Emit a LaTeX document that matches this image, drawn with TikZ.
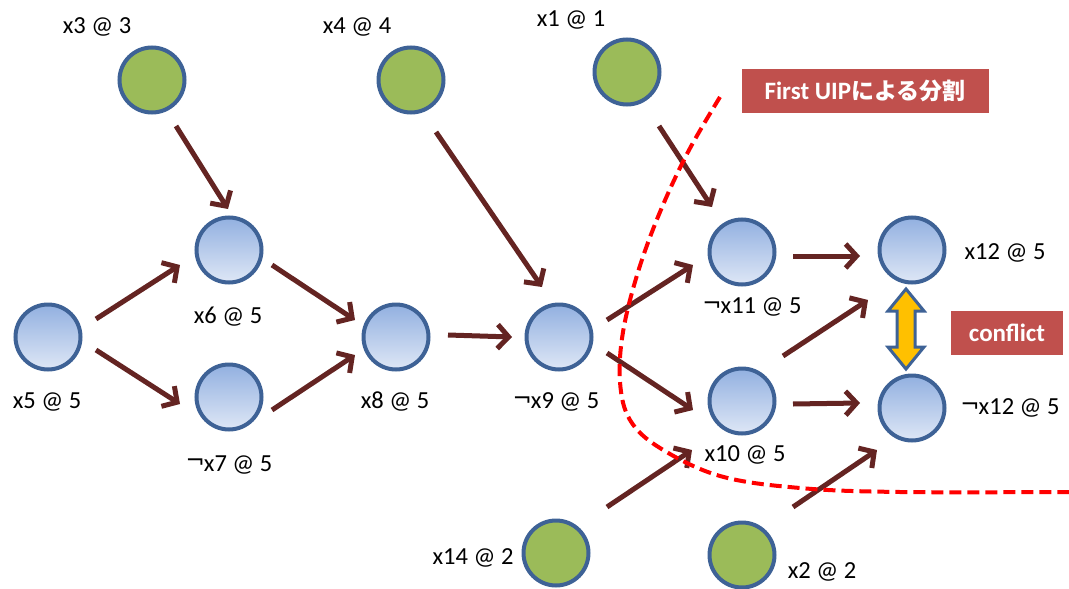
\documentclass[tikz,border=0pt]{standalone}
\usepackage{fontspec}
\setmainfont{Carlito}
\newfontfamily\jpfont{Noto Sans CJK JP}
\newfontfamily\symfont{DejaVu Sans}
\usetikzlibrary{arrows.meta,calc}
\definecolor{rimblue}{RGB}{62,98,150}
\definecolor{leaf}{RGB}{155,187,89}
\definecolor{topblue}{RGB}{146,176,224}
\definecolor{botblue}{RGB}{222,231,246}
\definecolor{edgered}{RGB}{100,36,34}
\definecolor{boxred}{RGB}{192,80,77}
\definecolor{cutred}{RGB}{255,0,0}
\definecolor{warnyellow}{RGB}{255,192,0}
\newcommand{\negsign}{\raisebox{2.5pt}{\symfont\fontsize{23}{24}\selectfont ¬}\kern-1pt}
\tikzset{
  lit/.style={circle, minimum size=65pt, inner sep=0pt, draw=rimblue, line width=4pt, shading=axis, top color=topblue, bottom color=botblue},
  given/.style={circle, minimum size=65pt, inner sep=0pt, draw=rimblue, line width=4pt, fill=leaf},
  lbl/.style={font=\fontsize{24.5}{27}\selectfont, inner sep=0pt},
  imp/.style={draw=edgered, line width=5pt, line cap=butt,
    -{Straight Barb[length=11pt,width=24pt,line join=miter]}},
  tag/.style={fill=boxred, text=white, font=\bfseries\fontsize{25}{27}\selectfont, inner sep=0pt},
}
\begin{document}
\begin{tikzpicture}[x=1pt,y=-1pt]
\useasboundingbox (0,0) rectangle (1069,589);

% decision literals (given)
\node[given] (x3)  at (152,80)  {};
\node[given] (x4)  at (411,80)  {};
\node[given] (x1)  at (627,72)  {};
\node[given] (x14) at (556,553) {};
\node[given] (x2)  at (742,555) {};

% implied literals
\node[lit] (x6)  at (229,250) {};
\node[lit] (x5)  at (48,337)  {};
\node[lit] (x7)  at (229,397) {};
\node[lit] (x8)  at (396,337) {};
\node[lit] (x9)  at (559,337) {};
\node[lit] (x11) at (742,252) {};
\node[lit] (x10) at (742,401) {};
\node[lit] (x12) at (912,250) {};
\node[lit] (nx12) at (912,408) {};

% labels
\node[lbl] (l3)  at (97,27)   {x3 @ 3};
\node[lbl] (l4)  at (357,27)  {x4 @ 4};
\node[lbl] (l1)  at (571,20)  {x1 @ 1};
\node[lbl] (l6)  at (228,317) {x6 @ 5};
\node[lbl] (l5)  at (47,402)  {x5 @ 5};
\node[lbl] (l7)  at (229,465) {\negsign x7 @ 5};
\node[lbl] (l8)  at (395,402) {x8 @ 5};
\node[lbl] (l9)  at (556,402) {\negsign x9 @ 5};
\node[lbl] (l11) at (752,307) {\negsign x11 @ 5};
\node[lbl] (l10) at (745,455) {x10 @ 5};
\node[lbl] (l12) at (1005,253) {x12 @ 5};
\node[lbl] (ln12) at (1010,408) {\negsign x12 @ 5};
\node[lbl] (l14) at (473,558) {x14 @ 2};
\node[lbl] (l2)  at (822,572) {x2 @ 2};

% implication edges
\draw[imp] ($(x3)+(24,46)$)   -- ($(x6)+(-1,-41)$);
\draw[imp] ($(x5)+(48,-18)$)  -- ($(x6)+(-49,15)$);
\draw[imp] ($(x5)+(48,13)$)   -- ($(x7)+(-49,7)$);
\draw[imp] ($(x6)+(43,15)$)   -- ($(x8)+(-41,-17)$);
\draw[imp] ($(x7)+(43,13)$)   -- ($(x8)+(-41,18)$);
\draw[imp] ($(x8)+(52,-2)$)   -- ($(x9)+(-47,0)$);
\draw[imp] ($(x4)+(25,52)$)   -- ($(x9)+(-17,-50)$);
\draw[imp] ($(x1)+(32,54)$)   -- ($(x11)+(-30,-45)$);
\draw[imp] ($(x9)+(48,-17)$)  -- ($(x11)+(-49,13)$);
\draw[imp] ($(x9)+(48,16)$)   -- ($(x10)+(-49,9)$);
\draw[imp] ($(x11)+(51,4)$)   -- ($(x12)+(-52,6)$);
\draw[imp] ($(x10)+(41,-45)$) -- ($(x12)+(-44,50)$);
\draw[imp] ($(x10)+(51,3)$)   -- ($(nx12)+(-52,-5)$);
\draw[imp] ($(x14)+(51,-46)$) -- ($(x10)+(-50,49)$);
\draw[imp] ($(x2)+(51,-48)$)  -- ($(nx12)+(-35,42)$);

% conflict marker between x12 and its negation
\coordinate (cm) at ($(x12)!0.5!(nx12)$);
\draw[fill=warnyellow, draw=rimblue, line width=3pt, line join=miter]
  ($(cm)+(-6,-40)$) -- ($(cm)+(12,-18)$) -- ($(cm)+(3,-18)$) -- ($(cm)+(3,18)$)
  -- ($(cm)+(12,18)$) -- ($(cm)+(-6,40)$) -- ($(cm)+(-24,18)$) -- ($(cm)+(-15,18)$)
  -- ($(cm)+(-15,-18)$) -- ($(cm)+(-24,-18)$) -- cycle;

% tags
\node[tag, minimum width=112pt, minimum height=44pt] (conf) at (1007,333) {conflict};
\node[tag, minimum width=247pt, minimum height=44pt] (uip) at (865,91)
  {First UIP{\jpfont\bfseries\fontsize{23}{25}\selectfont による分割}};

% cut through the implication graph
\draw[cutred, line width=4pt, dash pattern=on 12pt off 6pt]
  plot[smooth, tension=0.6] coordinates {(720,97) (688,152) (660,212) (638,272)
  (623,332) (620,382) (630,420) (660,448) (720,476) (800,488) (900,492) (1069,492)};
\end{tikzpicture}
\end{document}
